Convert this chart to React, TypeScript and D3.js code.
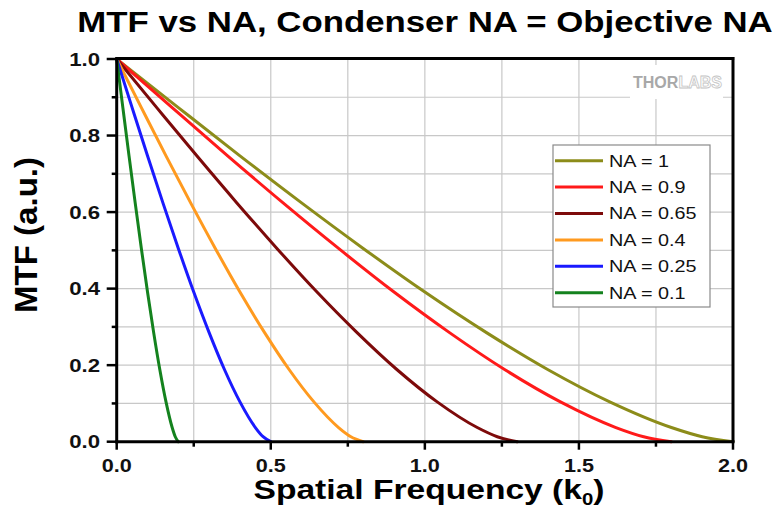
import React from 'react';
import * as d3 from 'd3';

const seriesNames = ['NA = 1', 'NA = 0.9', 'NA = 0.65', 'NA = 0.4', 'NA = 0.25', 'NA = 0.1'];
const seriesColors = ['#8c8c1a', '#ff1a1a', '#7d0a0a', '#ff9a1f', '#1a1aff', '#14821e'];

// spatial frequency samples
const freqNA1 = [0, 0.2, 0.4, 0.6, 0.8, 1.0, 1.2, 1.4, 1.6, 1.8, 1.9, 2.0];
const freqNA09 = [0, 0.18, 0.36, 0.54, 0.72, 0.9, 1.08, 1.26, 1.44, 1.62, 1.71, 1.8];
const freqNA065 = [0, 0.13, 0.26, 0.39, 0.52, 0.65, 0.78, 0.91, 1.04, 1.17, 1.235, 1.3];
const freqNA04 = [0, 0.08, 0.16, 0.24, 0.32, 0.4, 0.48, 0.56, 0.64, 0.72, 0.76, 0.8];
const freqNA025 = [0, 0.05, 0.1, 0.15, 0.2, 0.25, 0.3, 0.35, 0.4, 0.45, 0.475, 0.5];
const freqNA01 = [0, 0.02, 0.04, 0.06, 0.08, 0.1, 0.12, 0.14, 0.16, 0.18, 0.19, 0.2];
// MTF values at those samples
const mtfNA1 = [1, 0.873, 0.747, 0.624, 0.505, 0.391, 0.285, 0.188, 0.104, 0.037, 0.013, 0];
const mtfNA09 = [1, 0.873, 0.747, 0.624, 0.505, 0.391, 0.285, 0.188, 0.104, 0.037, 0.013, 0];
const mtfNA065 = [1, 0.873, 0.747, 0.624, 0.505, 0.391, 0.285, 0.188, 0.104, 0.037, 0.013, 0];
const mtfNA04 = [1, 0.873, 0.747, 0.624, 0.505, 0.391, 0.285, 0.188, 0.104, 0.037, 0.013, 0];
const mtfNA025 = [1, 0.873, 0.747, 0.624, 0.505, 0.391, 0.285, 0.188, 0.104, 0.037, 0.013, 0];
const mtfNA01 = [1, 0.873, 0.747, 0.624, 0.505, 0.391, 0.285, 0.188, 0.104, 0.037, 0.013, 0];

const seriesFreq = [freqNA1, freqNA09, freqNA065, freqNA04, freqNA025, freqNA01];
const seriesMtf = [mtfNA1, mtfNA09, mtfNA065, mtfNA04, mtfNA025, mtfNA01];

const xTicks = [0, 0.5, 1.0, 1.5, 2.0];
const xTickLabels = ['0.0', '0.5', '1.0', '1.5', '2.0'];
const xMinor = [0.25, 0.75, 1.25, 1.75];
const yTicks = [0, 0.2, 0.4, 0.6, 0.8, 1.0];
const yTickLabels = ['0.0', '0.2', '0.4', '0.6', '0.8', '1.0'];
const yMinor = [0.1, 0.3, 0.5, 0.7, 0.9];
const xGrid = [0.25, 0.5, 0.75, 1.0, 1.25, 1.5, 1.75];
const yGrid = [0.1, 0.2, 0.3, 0.4, 0.5, 0.6, 0.7, 0.8, 0.9];

const FONT = 'Liberation Sans, Arial, Helvetica, sans-serif';
const SX = 1.2;

export default function App() {
  const W = 778, H = 524;
  const x = d3.scaleLinear().domain([0, 2]).range([116.7, 733]);
  const y = d3.scaleLinear().domain([0, 1]).range([441.7, 59]);
  const line = d3.line<[number, number]>()
    .x(d => x(d[0]))
    .y(d => y(d[1]))
    .curve(d3.curveMonotoneX);

  const [x0, x1] = x.range();
  const [y0, y1] = y.range();

  return (
    <svg width={W} height={H} style={{ position: 'absolute', left: 0, top: 0, background: '#fff' }}>
      <rect x={0} y={0} width={W} height={H} fill="#fff" />
      {/* grid */}
      {xGrid.map(v => (
        <line key={'gx' + v} x1={x(v)} x2={x(v)} y1={y1} y2={y0} stroke="#c8c8c8" strokeWidth={1.2} />
      ))}
      {yGrid.map(v => (
        <line key={'gy' + v} x1={x0} x2={x1} y1={y(v)} y2={y(v)} stroke="#c8c8c8" strokeWidth={1.2} />
      ))}
      {/* watermark */}
      <rect x={630} y={65} width={93} height={34} fill="#fff" />
      <text x={633} y={88} fontFamily={FONT} fontWeight="bold" fontSize={16} textLength={89} lengthAdjust="spacingAndGlyphs">
        <tspan fill="#a8a8a8">THOR</tspan>
        <tspan fill="#fff" stroke="#c4c4c4" strokeWidth={0.8}>LABS</tspan>
      </text>
      {/* curves */}
      {seriesFreq.map((fr, i) => (
        <path
          key={'s' + i}
          d={line(fr.map((f, j) => [f, seriesMtf[i][j]] as [number, number])) || ''}
          fill="none"
          stroke={seriesColors[i]}
          strokeWidth={3}
          strokeLinecap="round"
        />
      ))}
      {/* frame */}
      <line x1={x0} x2={x1 + 1.2} y1={y1 - 0.5} y2={y1 - 0.5} stroke="#000" strokeWidth={3} />
      <line x1={x1} x2={x1} y1={y1 - 2} y2={y0} stroke="#000" strokeWidth={3} />
      <line x1={x0} x2={x0} y1={y1 - 2} y2={y0 + 1.5} stroke="#000" strokeWidth={3} />
      <line x1={x0 - 1.5} x2={x1 + 1.5} y1={y0} y2={y0} stroke="#000" strokeWidth={3} />
      {/* x ticks */}
      {xTicks.map((v, i) => (
        <g key={'xt' + v}>
          <line x1={x(v)} x2={x(v)} y1={y0} y2={y0 + 8} stroke="#000" strokeWidth={2.5} />
          <g transform={`translate(${x(v)},${472}) scale(${SX},1)`}>
            <text textAnchor="middle" fontFamily={FONT} fontWeight="bold" fontSize={18} fill="#111">{xTickLabels[i]}</text>
          </g>
        </g>
      ))}
      {xMinor.map(v => (
        <line key={'xm' + v} x1={x(v)} x2={x(v)} y1={y0} y2={y0 + 5} stroke="#000" strokeWidth={2.5} />
      ))}
      {/* y ticks */}
      {yTicks.map((v, i) => (
        <g key={'yt' + v}>
          <line x1={x0 - 10} x2={x0} y1={y(v)} y2={y(v)} stroke="#000" strokeWidth={2.5} />
          <g transform={`translate(${100},${y(v)}) scale(${SX},1)`}>
            <text textAnchor="end" dy="0.36em" fontFamily={FONT} fontWeight="bold" fontSize={18.5} fill="#111">{yTickLabels[i]}</text>
          </g>
        </g>
      ))}
      {yMinor.map(v => (
        <line key={'ym' + v} x1={x0 - 5} x2={x0} y1={y(v)} y2={y(v)} stroke="#000" strokeWidth={2.5} />
      ))}
      {/* legend */}
      <rect x={553} y={145} width={157} height={162} fill="#fff" stroke="#8a8a8a" strokeWidth={1.2} />
      {seriesNames.map((n, i) => {
        const ly = 160.7 + i * 26.4;
        return (
          <g key={'lg' + i}>
            <line x1={555} x2={603} y1={ly} y2={ly} stroke={seriesColors[i]} strokeWidth={3} />
            <g transform={`translate(609,${ly}) scale(${SX},1)`}>
              <text dy="0.36em" fontFamily={FONT} fontSize={16.5} fill="#111">{n}</text>
            </g>
          </g>
        );
      })}
      {/* title */}
      <g transform={`translate(425,32) scale(1.16,1)`}>
        <text textAnchor="middle" fontFamily={FONT} fontWeight="bold" fontSize={30} fill="#000">
          MTF vs NA, Condenser NA = Objective NA
        </text>
      </g>
      {/* x label */}
      <g transform={`translate(429,499) scale(${SX},1)`}>
        <text textAnchor="middle" fontFamily={FONT} fontWeight="bold" fontSize={28} fill="#000">
          Spatial Frequency (k<tspan fontSize={17} dy={6}>0</tspan><tspan dy={-6}>)</tspan>
        </text>
      </g>
      {/* y label */}
      <g transform={`translate(37,235) scale(${SX},1) rotate(-90)`}>
        <text textAnchor="middle" fontFamily={FONT} fontWeight="bold" fontSize={26} textLength={156} lengthAdjust="spacingAndGlyphs" fill="#000">
          MTF (a.u.)
        </text>
      </g>
    </svg>
  );
}
